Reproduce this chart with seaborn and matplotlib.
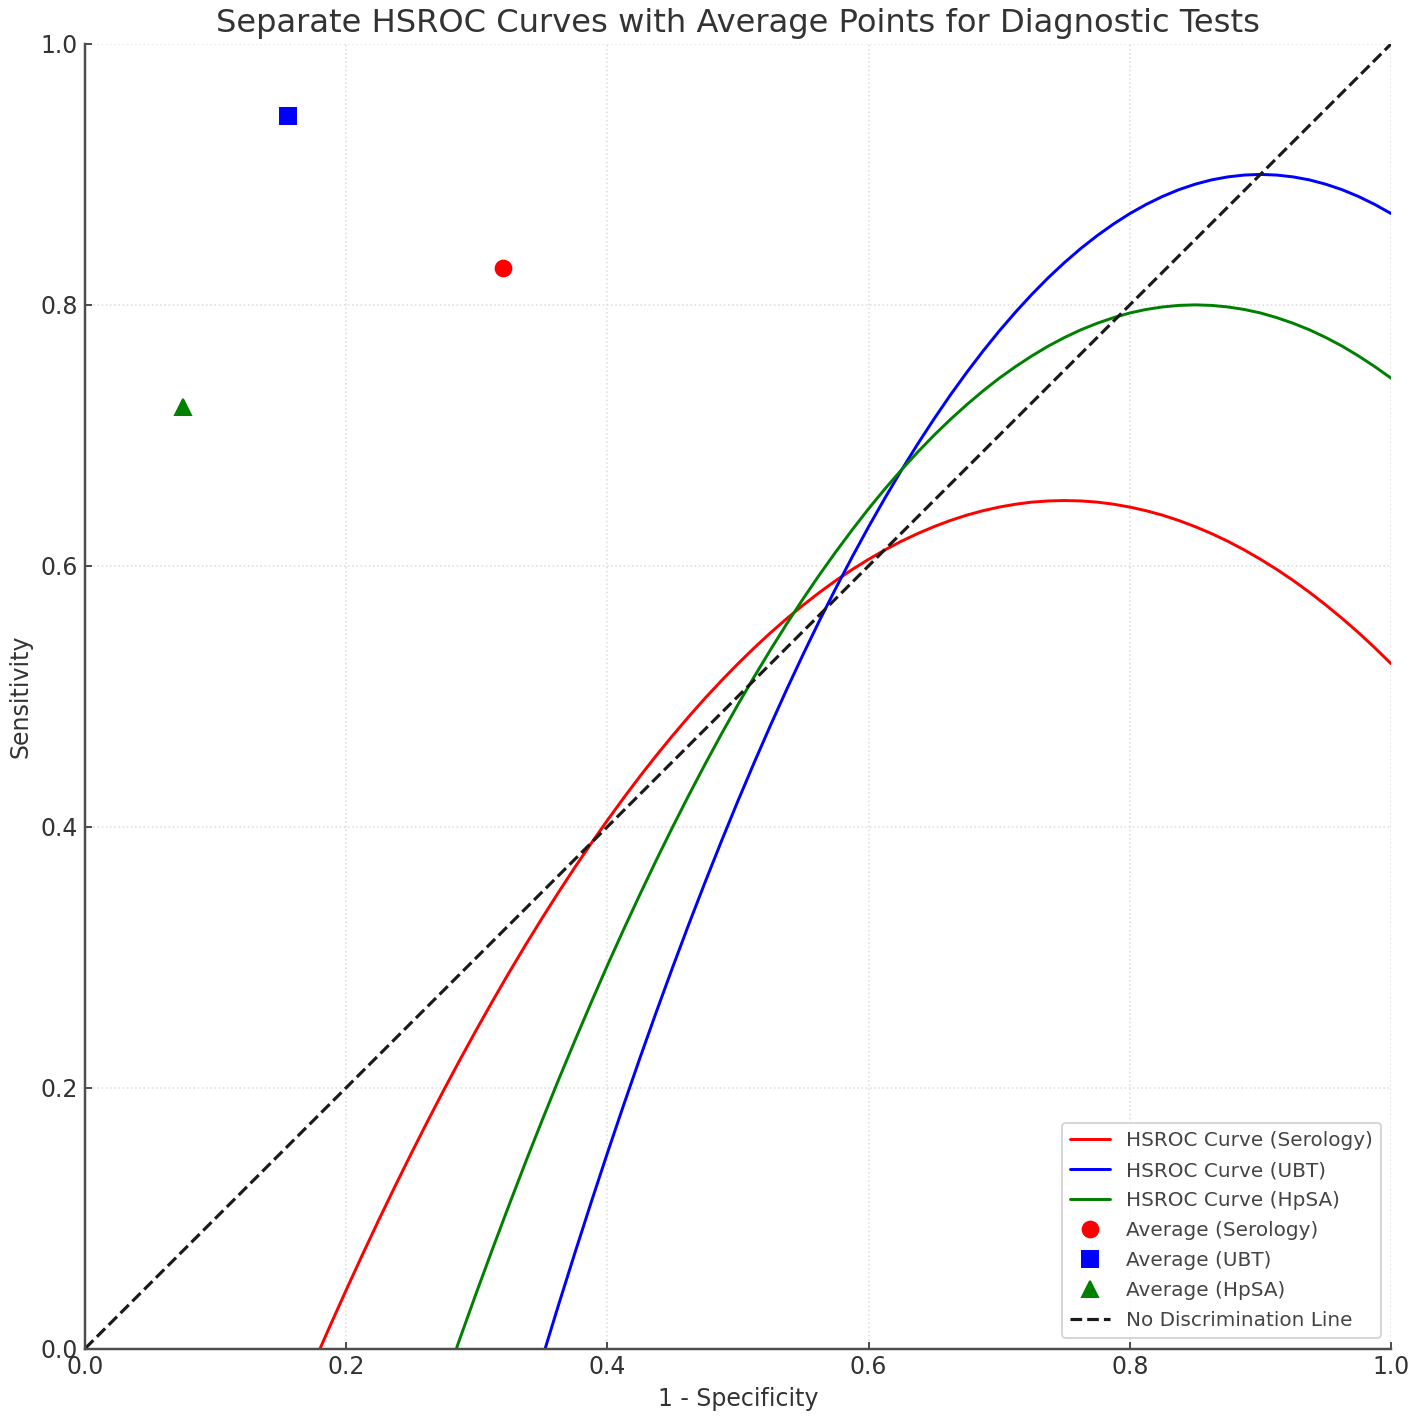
import matplotlib
matplotlib.use("Agg")
import matplotlib.pyplot as plt
import seaborn as sns
import pandas as pd
import numpy as np

nan = np.nan

fpr_grid = [0.175, 0.1875, 0.2, 0.2125, 0.225, 0.2375, 0.25, 0.2625, 0.275, 0.2875, 0.3, 0.3125,
            0.325, 0.3375, 0.35, 0.3625, 0.375, 0.3875, 0.4, 0.4125, 0.425, 0.4375, 0.45, 0.4625,
            0.475, 0.4875, 0.5, 0.5125, 0.525, 0.5375, 0.55, 0.5625, 0.575, 0.5875, 0.6, 0.6125,
            0.625, 0.6375, 0.65, 0.6625, 0.675, 0.6875, 0.7, 0.7125, 0.725, 0.7375, 0.75, 0.7625,
            0.775, 0.7875, 0.8, 0.8125, 0.825, 0.8375, 0.85, 0.8625, 0.875, 0.8875, 0.9, 0.9125,
            0.925, 0.9375, 0.95, 0.9625, 0.975, 0.9875, 1.0]

sero_sens = [-0.0113, 0.0172, 0.045, 0.0722, 0.0988, 0.1247, 0.15, 0.1747, 0.1988, 0.2222,
             0.245, 0.2672, 0.2888, 0.3097, 0.33, 0.3497, 0.3688, 0.3872, 0.405, 0.4222,
             0.4388, 0.4547, 0.47, 0.4847, 0.4988, 0.5122, 0.525, 0.5372, 0.5488, 0.5597,
             0.57, 0.5797, 0.5888, 0.5972, 0.605, 0.6122, 0.6188, 0.6247, 0.63, 0.6347,
             0.6388, 0.6422, 0.645, 0.6472, 0.6488, 0.6497, 0.65, 0.6497, 0.6488, 0.6472,
             0.645, 0.6422, 0.6388, 0.6347, 0.63, 0.6247, 0.6188, 0.6122, 0.605, 0.5972,
             0.5888, 0.5797, 0.57, 0.5597, 0.5488, 0.5372, 0.525]

ubt_sens = [nan, nan, nan, nan, nan, nan, nan, nan, nan, nan, nan, nan, nan, nan,
            -0.0075, 0.0333, 0.0731, 0.1120, 0.15, 0.1870, 0.2231, 0.2583, 0.2925, 0.3258,
            0.3581, 0.3895, 0.42, 0.4495, 0.4781, 0.5058, 0.5325, 0.5583, 0.5831, 0.6070,
            0.63, 0.6520, 0.6731, 0.6933, 0.7125, 0.7308, 0.7481, 0.7645, 0.78, 0.7945,
            0.8081, 0.8208, 0.8325, 0.8433, 0.8531, 0.8620, 0.87, 0.8770, 0.8831, 0.8883,
            0.8925, 0.8958, 0.8981, 0.8995, 0.9, 0.8995, 0.8981, 0.8958, 0.8925, 0.8883,
            0.8831, 0.8770, 0.87]

hpsa_sens = [nan, nan, nan, nan, nan, nan, nan, nan,
             -0.0266, 0.0090, 0.0438, 0.0777, 0.1109, 0.1434, 0.175, 0.2059, 0.2359, 0.2652,
             0.2938, 0.3215, 0.3484, 0.3746, 0.4, 0.4246, 0.4484, 0.4715, 0.4938, 0.5152,
             0.5359, 0.5559, 0.575, 0.5934, 0.6109, 0.6277, 0.6438, 0.6590, 0.6734, 0.6871,
             0.7, 0.7121, 0.7234, 0.7340, 0.7438, 0.7527, 0.7609, 0.7684, 0.775, 0.7809,
             0.7859, 0.7902, 0.7938, 0.7965, 0.7984, 0.7996, 0.8, 0.7996, 0.7984, 0.7965,
             0.7938, 0.7902, 0.7859, 0.7809, 0.775, 0.7684, 0.7609, 0.7527, 0.7438]

avg_tests = ["Serology", "UBT", "HpSA"]
avg_fpr = [0.32, 0.155, 0.075]
avg_sens = [0.828, 0.945, 0.722]

diag_x = [0.0, 1.0]
diag_y = [0.0, 1.0]

colors = {"Serology": "red", "UBT": "blue", "HpSA": "green"}
markers = {"Serology": "o", "UBT": "s", "HpSA": "^"}

sns.set_theme(style="whitegrid", rc={
    "axes.edgecolor": "#4d4d4d",
    "axes.linewidth": 1.25,
    "grid.color": "#dddddd",
    "grid.linestyle": ":",
    "grid.linewidth": 0.8,
    "xtick.direction": "in",
    "ytick.direction": "in",
    "xtick.bottom": True,
    "ytick.left": True,
    "xtick.color": "#4d4d4d",
    "ytick.color": "#4d4d4d",
    "xtick.labelcolor": "#333333",
    "ytick.labelcolor": "#333333",
    "xtick.major.size": 3.5,
    "ytick.major.size": 3.5,
    "xtick.major.width": 1.0,
    "ytick.major.width": 1.0,
    "text.color": "#333333",
    "axes.labelcolor": "#333333",
    "legend.edgecolor": "#cccccc",
    "lines.solid_capstyle": "round",
})
plt.rcParams["font.family"] = ["DejaVu Sans"]

fig, ax = plt.subplots(figsize=(10, 10), dpi=141.8)

for name, ys in [("Serology", sero_sens), ("UBT", ubt_sens), ("HpSA", hpsa_sens)]:
    df = pd.DataFrame({"fpr": fpr_grid, "sens": ys}).dropna()
    sns.lineplot(data=df, x="fpr", y="sens", ax=ax, color=colors[name], lw=1.5,
                 label=f"HSROC Curve ({name})", sort=False)

for name, fx, sy in zip(avg_tests, avg_fpr, avg_sens):
    ax.plot([fx], [sy], linestyle="none", marker=markers[name], color=colors[name],
            markersize=8, label=f"Average ({name})")

ax.plot(diag_x, diag_y, "k--", lw=1.6, label="No Discrimination Line")

ax.set_xlim(0, 1)
ax.set_ylim(0, 1)
ax.set_xticks([0, 0.2, 0.4, 0.6, 0.8, 1.0])
ax.set_yticks([0, 0.2, 0.4, 0.6, 0.8, 1.0])
ax.set_xlabel("1 - Specificity", fontsize=12)
ax.set_ylabel("Sensitivity", fontsize=12)
ax.set_title("Separate HSROC Curves with Average Points for Diagnostic Tests", fontsize=16.3)
ax.tick_params(labelsize=12)
sns.despine(ax=ax)
leg = ax.legend(loc="lower right", fontsize=10.2, labelspacing=0.55)
for t in leg.get_texts():
    t.set_color("#444444")

fig.subplots_adjust(left=0.06, right=0.981, top=0.969, bottom=0.049)
fig.savefig("out.png", dpi=141.8)
